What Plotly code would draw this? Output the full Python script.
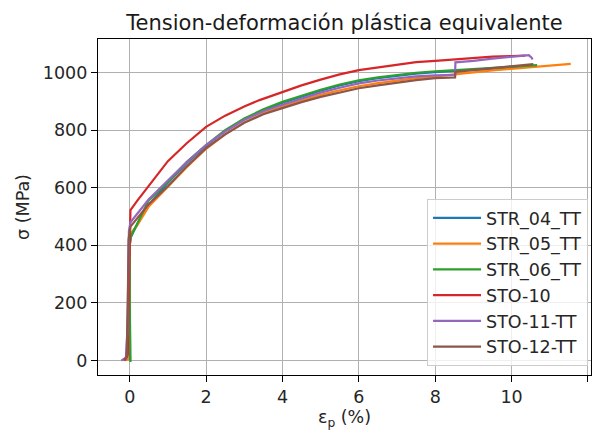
import plotly.graph_objects as go

# ---- data ----
names = ["STR_04_TT", "STR_05_TT", "STR_06_TT", "STO-10", "STO-11-TT", "STO-12-TT"]
colors = ["#1f77b4", "#ff7f0e", "#2ca02c", "#d62728", "#9467bd", "#8c564b"]

str04_x = [0.01, 0.0, 0.0, 0.03, 0.1, 0.3, 0.6, 1.0, 1.5, 2.0, 2.5, 3.0, 3.5, 4.0, 4.5, 5.0, 5.5, 6.0, 6.5, 7.0, 7.5, 8.0, 8.5, 9.0, 9.5, 10.0, 10.6]
str04_y = [0, 200, 400, 428, 448, 497, 557, 617, 687, 745, 797, 837, 869, 895, 917, 937, 955, 970, 980, 989, 996, 1001, 1005, 1010, 1014, 1018, 1022]

str05_x = [-0.05, 0.0, 0.0, 0.05, 0.2, 0.5, 1.0, 1.5, 2.0, 2.5, 3.0, 3.5, 4.0, 4.5, 5.0, 5.5, 6.0, 6.5, 7.0, 7.5, 8.0, 8.5, 9.0, 9.5, 10.0, 10.5, 11.0, 11.55]
str05_y = [0, 200, 420, 445, 470, 535, 603, 672, 735, 785, 826, 858, 882, 903, 922, 938, 952, 963, 972, 980, 986, 992, 1000, 1007, 1013, 1019, 1024, 1030]

str06_x = [0.02, 0.02, 0.0, 0.0, 0.03, 0.2, 0.5, 1.0, 1.5, 2.0, 2.5, 3.0, 3.5, 4.0, 4.5, 5.0, 5.5, 6.0, 6.5, 7.0, 7.5, 8.0, 8.5, 9.0, 9.5, 10.0, 10.67]
str06_y = [-5, 0, 200, 400, 430, 475, 557, 620, 690, 748, 800, 840, 872, 898, 920, 940, 958, 973, 983, 992, 999, 1004, 1008, 1013, 1017, 1021, 1025]

sto10_x = [-0.12, -0.05, -0.03, -0.01, 0.0, 0.02, 0.2, 0.45, 0.7, 1.0, 1.5, 2.0, 2.5, 3.0, 3.4, 4.0, 4.5, 5.0, 5.5, 6.0, 6.5, 7.0, 7.5, 8.0, 8.5, 9.0, 9.5, 10.0, 10.36]
sto10_y = [0, 20, 200, 400, 480, 522, 555, 598, 642, 692, 755, 811, 850, 882, 904, 933, 955, 975, 993, 1008, 1018, 1028, 1036, 1040, 1045, 1050, 1055, 1057, 1058]

sto11_x = [-0.22, -0.1, -0.06, -0.04, -0.02, 0.02, 0.2, 0.5, 1.0, 1.5, 2.0, 2.5, 3.0, 3.5, 4.0, 4.5, 5.0, 5.5, 6.0, 6.5, 7.0, 7.5, 8.0, 8.52, 8.53, 9.0, 9.5, 10.0, 10.45, 10.52, 10.55]
sto11_y = [0, 10, 100, 300, 450, 480, 510, 560, 625, 690, 748, 795, 835, 865, 888, 910, 930, 947, 962, 972, 980, 986, 990, 992, 1035, 1040, 1048, 1055, 1060, 1052, 1045]

sto12_x = [-0.15, -0.08, -0.05, -0.03, 0.02, 0.2, 0.5, 1.0, 1.5, 2.0, 2.5, 3.0, 3.5, 4.0, 4.5, 5.0, 5.5, 6.0, 6.5, 7.0, 7.5, 8.0, 8.52, 8.53, 9.0, 9.5, 10.0, 10.57]
sto12_y = [0, 15, 200, 420, 465, 493, 543, 605, 675, 737, 785, 825, 855, 876, 897, 915, 930, 945, 955, 965, 973, 980, 983, 1002, 1008, 1015, 1022, 1029]

series_x = [str04_x, str05_x, str06_x, sto10_x, sto11_x, sto12_x]
series_y = [str04_y, str05_y, str06_y, sto10_y, sto11_y, sto12_y]

x_ticks = [0, 2, 4, 6, 8, 10, 12]
y_ticks = [0, 200, 400, 600, 800, 1000]

FONT = "DejaVu Sans"
TXT = "#262626"
FS = 17.5

fig = go.Figure()
for i, (nm, c, xs, ys) in enumerate(zip(names, colors, series_x, series_y)):
    fig.add_trace(go.Scatter(
        x=xs, y=ys, mode="lines", name=nm,
        line=dict(color=c, width=2.2),
        legendgroup=f"g{i}",
    ))

axis_common = dict(
    showline=True, mirror=True, linecolor="black", linewidth=1.2,
    showgrid=True, gridcolor="#b0b0b0", gridwidth=1.2,
    ticks="outside", ticklen=6, tickcolor="black", tickwidth=1.2,
    zeroline=False,
    tickfont=dict(family=FONT, size=FS, color=TXT),
)

fig.update_layout(
    width=593, height=430,
    margin=dict(l=98, r=2, t=39, b=55),
    paper_bgcolor="white", plot_bgcolor="white",
    title=dict(
        text="Tension-deformación plástica equivalente",
        font=dict(family=FONT, size=21, color="#1a1a1a"),
        x=(98 + 591) / 2 / 593, xanchor="center",
        y=1 - 23 / 430, yanchor="middle",
    ),
    xaxis=dict(
        range=[-0.83, 12.08], tickvals=x_ticks,
        title=dict(text="ε<sub>p</sub> (%)", font=dict(family=FONT, size=FS, color=TXT), standoff=6),
        **axis_common,
    ),
    yaxis=dict(
        range=[-50, 1116], tickvals=y_ticks,
        title=dict(text="σ (MPa)", font=dict(family=FONT, size=FS, color=TXT), standoff=8),
        **axis_common,
    ),
    legend=dict(
        x=0.994, xanchor="right", y=0.027, yanchor="bottom",
        bgcolor="rgba(255,255,255,0.8)", bordercolor="#cccccc", borderwidth=1,
        font=dict(family=FONT, size=FS, color=TXT),
        tracegroupgap=0,
        traceorder="grouped",
        itemwidth=48,
    ),
    showlegend=True,
)

fig.write_html("out.html")
